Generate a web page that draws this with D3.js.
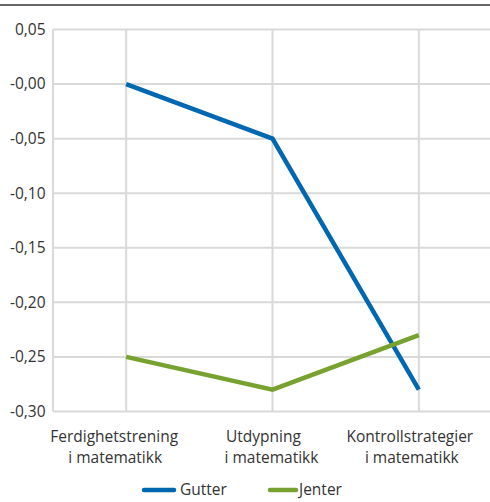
<!DOCTYPE html>
<html>
<head>
<meta charset="utf-8">
<script src="https://cdn.jsdelivr.net/npm/d3@7"></script>
<style>
  html, body { margin: 0; padding: 0; background: #fff; }
  svg { display: block; }
  text { font-family: "Open Sans", "Noto Sans", sans-serif; fill: #333; }
</style>
</head>
<body>
<svg id="chart" width="490" height="502"></svg>
<script>
const categories = [["Ferdighetstrening", "i matematikk"], ["Utdypning", "i matematikk"], ["Kontrollstrategier", "i matematikk"]];
const seriesNames = ["Gutter", "Jenter"];
const gutter = [0.00, -0.05, -0.28];
const jenter = [-0.25, -0.28, -0.23];
const yTicks = [0.05, 0.00, -0.05, -0.10, -0.15, -0.20, -0.25, -0.30];
const colors = ["#0067b1", "#78a22f"];

const svg = d3.select("#chart");
const margin = { left: 53, right: -2, top: 29.5, bottom: 90.5 };
const W = 490, H = 502;
const FS = 15.5;
const x = d3.scaleBand().domain(d3.range(categories.length)).range([margin.left, W - margin.right]);
const y = d3.scaleLinear().domain([-0.30, 0.05]).range([H - margin.bottom, margin.top]);
const cx = i => x(i) + x.bandwidth() / 2;

// top rule
svg.append("line").attr("x1", 0).attr("x2", W).attr("y1", 5).attr("y2", 5)
  .attr("stroke", "#333").attr("stroke-width", 1.5);

// horizontal grid
svg.append("g").selectAll("line").data(yTicks).join("line")
  .attr("x1", margin.left).attr("x2", W)
  .attr("y1", d => y(d)).attr("y2", d => y(d))
  .attr("stroke", "#d9d9d9").attr("stroke-width", 2);

// vertical grid (left edge + category centres)
const vx = [margin.left].concat(d3.range(categories.length).map(cx));
svg.append("g").selectAll("line").data(vx).join("line")
  .attr("x1", d => d).attr("x2", d => d)
  .attr("y1", y(0.05)).attr("y2", y(-0.30))
  .attr("stroke", "#d9d9d9").attr("stroke-width", 2);

// y labels
const fmt = d => (d === 0 ? "-0,00" : d3.format(".2f")(d).replace(".", ",").replace("−", "-"));
svg.append("g").selectAll("text").data(yTicks).join("text")
  .attr("x", 45.5).attr("y", d => y(d)).attr("dy", "0.35em")
  .attr("text-anchor", "end").attr("font-size", FS)
  .text(fmt);

// x labels (two lines each, nudged left of the gridline as laid out)
const nudge = [[-12, -11], [-9, -1], [-9, -7]];
const xl = svg.append("g").selectAll("text").data(categories).join("text")
  .attr("text-anchor", "middle").attr("font-size", FS);
xl.append("tspan").attr("x", (d, i) => cx(i) + nudge[i][0]).attr("y", 442).text(d => d[0]);
xl.append("tspan").attr("x", (d, i) => cx(i) + nudge[i][1]).attr("y", 463).text(d => d[1]);

// lines
const line = d3.line().x((d, i) => cx(i)).y(d => y(d));
[gutter, jenter].forEach((s, k) => {
  svg.append("path").datum(s).attr("d", line)
    .attr("fill", "none").attr("stroke", colors[k]).attr("stroke-width", 4.5)
    .attr("stroke-linejoin", "miter");
});

// legend
const legend = [{ x: 144, w: 30, gap: 6 }, { x: 270, w: 26, gap: 3 }];
seriesNames.forEach((n, k) => {
  const g = svg.append("g");
  g.append("line").attr("x1", legend[k].x).attr("x2", legend[k].x + legend[k].w)
    .attr("y1", 490).attr("y2", 490).attr("stroke", colors[k]).attr("stroke-width", 4.5)
    .attr("stroke-linecap", "round");
  g.append("text").attr("x", legend[k].x + legend[k].w + legend[k].gap).attr("y", 490).attr("dy", "0.35em")
    .attr("font-size", FS).text(n);
});
</script>
</body>
</html>
